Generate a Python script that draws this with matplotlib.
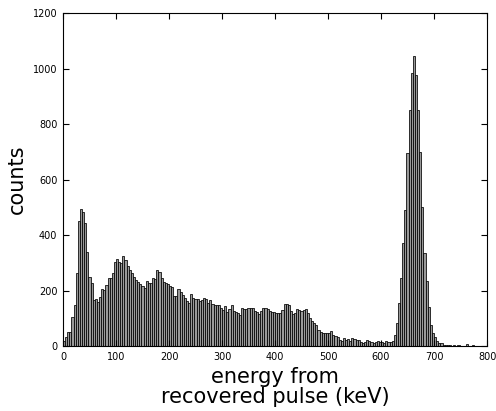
import numpy as np
import matplotlib
matplotlib.use("Agg")
import matplotlib.pyplot as plt

bin_width = 4
bin_left = np.arange(0, 800, bin_width)

counts = [
    # 0-116 keV
    20, 32, 52, 52, 104, 148, 262, 450, 493, 482, 442, 338, 250, 228, 166, 170,
    160, 178, 205, 202, 220, 245, 245, 264, 304, 313, 304, 300, 325,
    # 116-224 keV
    310, 290, 275, 262, 248, 238, 232, 225, 215, 210, 236, 226, 228, 244, 241,
    275, 268, 244, 232, 226, 222, 218, 212, 182, 180, 204, 196,
    # 224-344 keV
    184, 172, 163, 156, 187, 172, 170, 170, 162, 165, 172, 170, 156, 165, 151,
    148, 148, 148, 136, 130, 144, 124, 132, 148, 127, 124, 120, 112, 136, 132,
    # 344-452 keV
    132, 136, 136, 136, 127, 124, 115, 127, 136, 136, 132, 127, 124, 124, 120,
    118, 120, 130, 151, 151, 148, 127, 115, 120, 132, 130, 127,
    # 452-576 keV
    130, 132, 120, 100, 91, 84, 76, 58, 52, 48, 46, 48, 46, 55, 40, 36, 34, 22,
    19, 28, 22, 25, 19, 28, 25, 22, 22, 16, 12, 16, 22,
    # 576-624 keV
    19, 16, 12, 16, 19, 14, 16, 12, 19, 16, 15, 20,
    # 624-696 keV
    40, 82, 154, 244, 370, 492, 697, 850, 983, 1045, 977, 850, 700, 502, 334,
    236, 142, 76,
    # 696-800 keV
    47, 31, 19, 12, 10, 5, 4, 3, 4, 2, 3, 2, 3, 2, 1, 2, 8, 2, 1, 3, 1, 0, 2,
    1, 0, 1,
]

x_ticks = [0, 100, 200, 300, 400, 500, 600, 700, 800]
y_ticks = [0, 200, 400, 600, 800, 1000, 1200]

fig = plt.figure(figsize=(4.96, 4.11), dpi=100, facecolor="white")
ax = fig.add_axes([0.127, 0.158, 0.855, 0.81])

ax.bar(bin_left, counts, width=bin_width, align="edge",
       color="0.6", edgecolor="black", linewidth=0.55)

ax.set_xlim(0, 800)
ax.set_ylim(0, 1200)
ax.set_xticks(x_ticks)
ax.set_yticks(y_ticks)
ax.tick_params(direction="in", length=4, width=0.8, labelsize=7,
               top=True, right=True, pad=4)
for s in ax.spines.values():
    s.set_linewidth(0.8)

ax.set_xlabel("energy from\nrecovered pulse (keV)", fontsize=15, linespacing=1.0)
ax.set_ylabel("counts", fontsize=15)

fig.savefig("out.png", dpi=100, facecolor="white")
